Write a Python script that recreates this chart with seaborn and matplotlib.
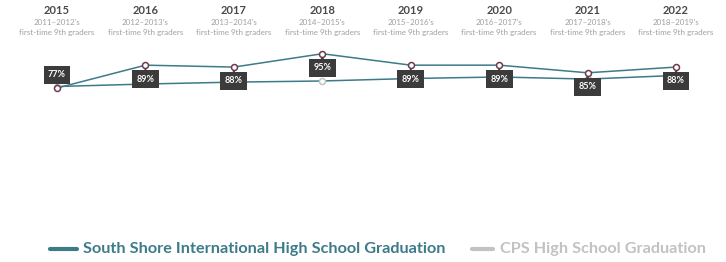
import matplotlib
matplotlib.use("Agg")
import matplotlib.pyplot as plt
import seaborn as sns
import pandas as pd
from matplotlib.lines import Line2D

years = ["2015", "2016", "2017", "2018", "2019", "2020", "2021", "2022"]
cohorts = ["2011–2012's", "2012–2013's", "2013–2014's", "2014–2015's",
           "2015–2016's", "2016–2017's", "2017–2018's", "2018–2019's"]
school = [77, 89, 88, 95, 89, 89, 85, 88]
cps = [77.8, 79.1, 80.1, 80.7, 82.0, 82.8, 81.7, 83.6]
label_above = [True, False, False, False, False, False, False, False]

TEAL = "#3d7b89"
MAROON = "#6e3a4e"
GREY = "#c2c2c2"
BOX = "#3b3b3b"

sns.set_theme(style="white")
plt.rcParams['font.family'] = ['Lato', 'DejaVu Sans']

df = pd.DataFrame({"idx": list(range(len(years))) * 2,
                   "value": school + cps,
                   "series": ["school"] * len(years) + ["cps"] * len(years)})

fig = plt.figure(figsize=(7.26, 2.62), dpi=100)
ax = fig.add_axes([0, 0, 1, 1])

sns.lineplot(data=df[df.series == "cps"], x="idx", y="value", ax=ax,
             color=TEAL, linewidth=1.1, marker="o", markersize=4.3,
             markerfacecolor="white", markeredgecolor=GREY, markeredgewidth=1.1,
             zorder=2)
sns.lineplot(data=df[df.series == "school"], x="idx", y="value", ax=ax,
             color=TEAL, linewidth=1.1, marker="o", markersize=4.3,
             markerfacecolor="white", markeredgecolor=MAROON, markeredgewidth=1.1,
             zorder=3)

for i, (v, up) in enumerate(zip(school, label_above)):
    dy = 9.5 if up else -10.0
    ax.annotate(f"{v}%", (i, v), xytext=(0, dy), textcoords="offset points",
                ha="center", va="center", fontsize=6.5, fontweight="bold",
                color="white", zorder=6,
                bbox=dict(boxstyle="square,pad=0.5", fc=BOX, ec="none"))
    ax.annotate("", (i, v), xytext=(0, 3.5 if up else -3.5), textcoords="offset points",
                ha="center", va="center", zorder=5,
                arrowprops=dict(arrowstyle="-|>,head_width=0.25,head_length=0.25",
                                color=BOX, lw=0.6, shrinkA=0, shrinkB=2.5))

ax.set_xlim(-0.6446, 7.565)
ax.set_ylim(-14.3, 123.2)
ax.axis("off")

for i, (y, c) in enumerate(zip(years, cohorts)):
    xf = (57 + i * 88.43) / 726
    fig.text(xf, 1 - 11 / 262, y, ha="center", va="center", fontsize=8.0,
             fontweight="bold", color="#4a4a4a")
    fig.text(xf, 1 - 22.5 / 262, c, ha="center", va="center", fontsize=5.8,
             color="#a0a0a0")
    fig.text(xf, 1 - 32.5 / 262, "first-time 9th graders", ha="center", va="center",
             fontsize=5.8, color="#a0a0a0")

ly = 1 - 249 / 262
fig.add_artist(Line2D([50 / 726, 77 / 726], [ly, ly], color=TEAL, lw=3,
                      solid_capstyle="round"))
fig.text(83 / 726, ly, "South Shore International High School Graduation",
         ha="left", va="center", fontsize=11.7, fontweight="bold", color=TEAL)
fig.add_artist(Line2D([472 / 726, 493 / 726], [ly, ly], color=GREY, lw=3,
                      solid_capstyle="round"))
fig.text(500 / 726, ly, "CPS High School Graduation",
         ha="left", va="center", fontsize=11.7, fontweight="bold", color=GREY)

fig.savefig("out.png", dpi=100)
